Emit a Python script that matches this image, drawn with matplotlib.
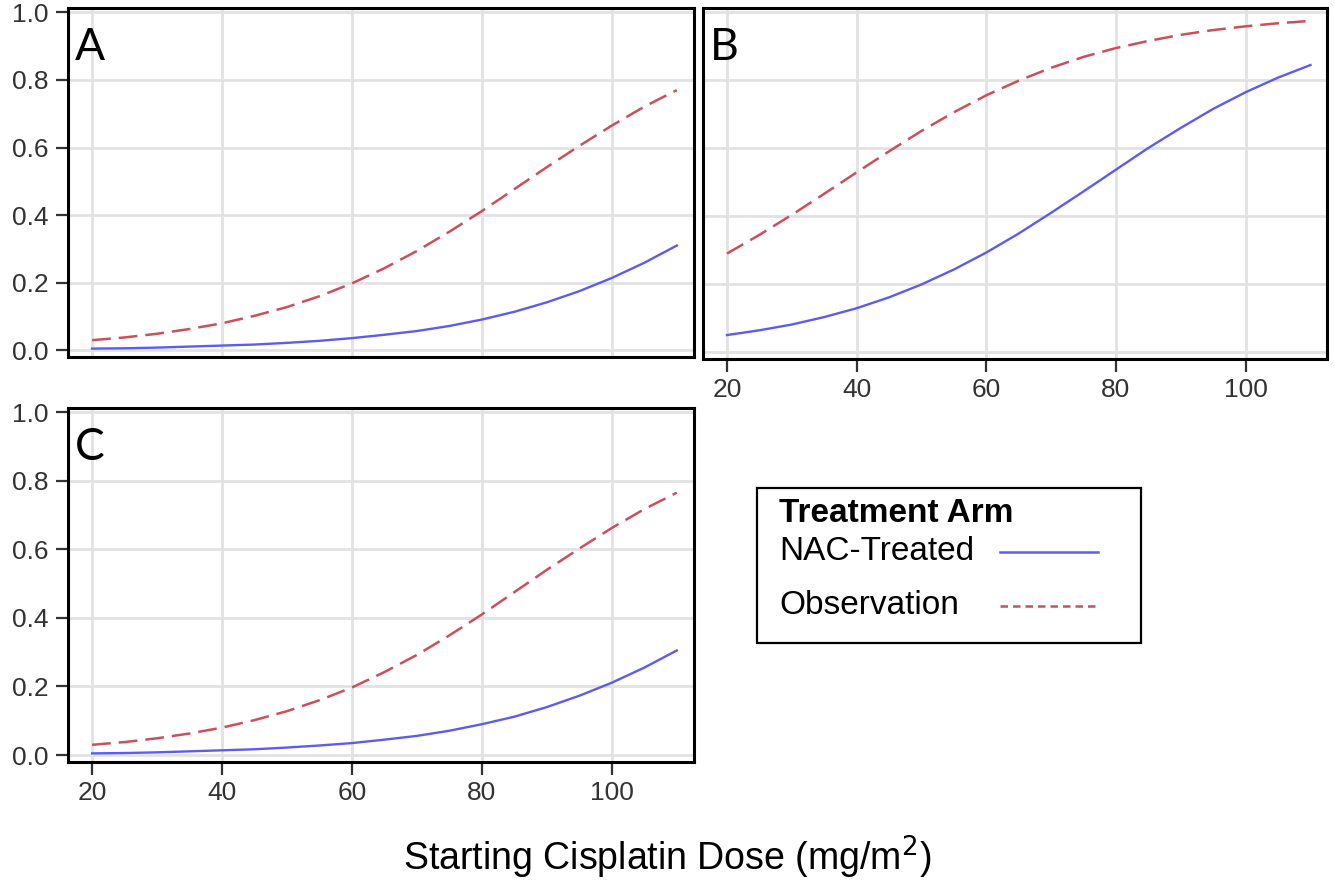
import numpy as np
import matplotlib
matplotlib.use("Agg")
import matplotlib.pyplot as plt
from matplotlib.lines import Line2D
from matplotlib.patches import Rectangle

# dose grid (mg/m2) and predicted probabilities
dose = [20, 25, 30, 35, 40, 45, 50, 55, 60, 65, 70, 75, 80, 85, 90, 95, 100, 105, 110]

a_obs = [0.030, 0.038, 0.049, 0.063, 0.080, 0.102, 0.128, 0.160, 0.198, 0.243,
         0.294, 0.351, 0.412, 0.477, 0.542, 0.605, 0.665, 0.721, 0.770]
a_nac = [0.005, 0.006, 0.008, 0.011, 0.014, 0.017, 0.022, 0.028, 0.036, 0.046,
         0.057, 0.072, 0.091, 0.114, 0.142, 0.175, 0.214, 0.259, 0.310]

b_obs = [0.290, 0.345, 0.404, 0.466, 0.529, 0.591, 0.651, 0.706, 0.756, 0.799,
         0.837, 0.869, 0.895, 0.916, 0.934, 0.948, 0.959, 0.968, 0.975]
b_nac = [0.050, 0.064, 0.081, 0.103, 0.129, 0.161, 0.199, 0.243, 0.293, 0.349,
         0.410, 0.473, 0.537, 0.601, 0.660, 0.716, 0.765, 0.808, 0.845]

c_obs = [0.030, 0.038, 0.049, 0.063, 0.080, 0.102, 0.128, 0.160, 0.197, 0.242,
         0.292, 0.349, 0.410, 0.475, 0.540, 0.602, 0.662, 0.717, 0.765]
c_nac = [0.005, 0.006, 0.008, 0.011, 0.014, 0.017, 0.022, 0.028, 0.035, 0.045,
         0.056, 0.071, 0.090, 0.112, 0.140, 0.173, 0.211, 0.255, 0.305]

xticks = [20, 40, 60, 80, 100]
yticks = [0.0, 0.2, 0.4, 0.6, 0.8, 1.0]
labels = ["A", "B", "C"]
arms = ["NAC-Treated", "Observation"]

blue = "#5c5cf2"
red = "#cc4f5a"
tick_font = ["Liberation Sans Narrow", "Liberation Sans", "DejaVu Sans"]
sans = ["Liberation Sans", "DejaVu Sans"]

fig = plt.figure(figsize=(13.34, 8.86), dpi=100)
boxes = [
    [0.051, 0.597, 0.469, 0.394],
    [0.527, 0.595, 0.468, 0.396],
    [0.051, 0.140, 0.469, 0.400],
]
panels = [(a_obs, a_nac), (b_obs, b_nac), (c_obs, c_nac)]

for i, box in enumerate(boxes):
    ax = fig.add_axes(box)
    obs, nac = panels[i]
    ax.plot(dose, obs, color=red, lw=1.8, ls=(0, (7.5, 3.2)))
    ax.plot(dose, nac, color=blue, lw=1.7)
    ax.set_xlim(16.3, 112.6)
    ax.set_ylim(-0.02, 1.013)
    ax.set_xticks(xticks)
    ax.set_yticks(yticks)
    ax.set_xticklabels([str(v) for v in xticks], fontsize=19, family=tick_font, color="#333333")
    ax.set_yticklabels(["%.1f" % v for v in yticks], fontsize=19, family=tick_font, color="#333333")
    ax.grid(True, color="#e2e2e2", lw=2.0)
    ax.set_axisbelow(True)
    for s in ax.spines.values():
        s.set_linewidth(2.2)
        s.set_color("black")
    ax.tick_params(direction="out", length=9, width=1.6, pad=5, color="#333333")
    if i == 0:
        ax.tick_params(axis="x", length=0, labelbottom=False)
    if i == 1:
        ax.tick_params(axis="y", length=0, labelleft=False)
    ax.text(0.011, 0.946, labels[i], transform=ax.transAxes, ha="left", va="top",
            fontsize=32, family=["Lato", "DejaVu Sans"])

# legend box drawn by hand so the text sits left and the line samples right
W, H = 1334.0, 886.0
fig.patches.append(Rectangle((757 / W, 1 - 643 / H), (1141 - 757) / W, (643 - 488) / H,
                             transform=fig.transFigure, facecolor="white",
                             edgecolor="black", lw=1.6))
fig.text(779 / W, 1 - 513 / H, "Treatment Arm", ha="left", va="center",
         fontsize=24, weight="bold", family=sans)
styles = [dict(color=blue, lw=1.8, ls="-"), dict(color=red, lw=1.8, ls=(0, (3, 2)))]
rows = [552, 606]
for name, st, yy in zip(arms, styles, rows):
    fig.text(779 / W, 1 - yy / H, name, ha="left", va="center", fontsize=24, family=sans)
    fig.add_artist(Line2D([1000 / W, 1098 / W], [1 - yy / H, 1 - yy / H],
                          transform=fig.transFigure, **st))

fig.text(0.5, 0.032, "Starting Cisplatin Dose (mg/m$^2$)", ha="center", va="center",
         fontsize=27, family=sans)

plt.savefig("out.png", dpi=100)
